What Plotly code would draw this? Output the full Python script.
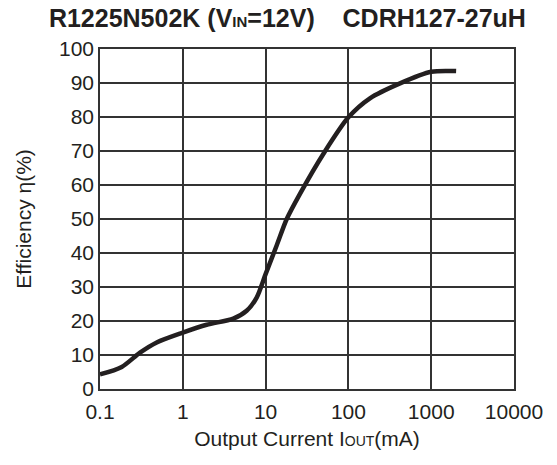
import plotly.graph_objects as go

current_ma = [0.1, 0.183, 0.304, 0.484, 1.0, 1.94, 4.07, 5.9, 7.8, 10, 13.6, 18, 26, 50, 100, 182, 420, 1000, 2000]
efficiency = [4.3, 6.5, 10.7, 13.7, 16.6, 18.9, 20.7, 23.0, 26.9, 33.8, 42.2, 50.0, 57.4, 69.2, 79.9, 85.5, 89.9, 93.3, 93.5]

x_ticks = [0.1, 1, 10, 100, 1000, 10000]
x_tick_labels = ["0.1", "1", "10", "100", "1000", "10000"]
y_ticks = list(range(0, 101, 10))

font_family = "Arial, 'Liberation Sans', sans-serif"
grid_color = "#333333"

fig = go.Figure()
fig.add_trace(go.Scatter(
    x=current_ma, y=efficiency, mode="lines",
    line=dict(color="#231f20", width=4.5, shape="spline", smoothing=0.8),
    showlegend=False, hoverinfo="skip"))

fig.update_layout(
    width=557, height=465,
    margin=dict(l=100, r=43, t=49, b=76),
    paper_bgcolor="white", plot_bgcolor="white",
    font=dict(family=font_family, size=21, color="#231f20"),
    title=dict(
        text="<b>R1225N502K (V<span style='font-size:15px'>IN</span>=12V)&nbsp;&nbsp;&nbsp; CDRH127-27uH</b>",
        x=0.516, xanchor="center", y=0.960, yanchor="middle",
        font=dict(family=font_family, size=25, color="#231f20")),
)
fig.update_xaxes(
    type="log", range=[-1, 4],
    tickvals=x_ticks, ticktext=x_tick_labels,
    showgrid=True, gridcolor=grid_color, gridwidth=1.5,
    showline=True, linecolor=grid_color, linewidth=1.5, mirror=True,
    ticks="", zeroline=False, ticklabelstandoff=3,
    title=dict(text="Output Current I<span style='font-size:14px'>OUT</span>(mA)",
               font=dict(size=21), standoff=9),
    tickfont=dict(size=21))
fig.update_yaxes(
    range=[0, 100], tickvals=y_ticks,
    showgrid=True, gridcolor=grid_color, gridwidth=1.5,
    showline=True, linecolor=grid_color, linewidth=1.5, mirror=True,
    ticks="", zeroline=False,
    title=dict(text="Efficiency η(%)", font=dict(size=21), standoff=22),
    tickfont=dict(size=21))

# remove the default 8px page margin so the figure fills the window exactly
fig.write_html("out.html", config={"displayModeBar": False},
               post_script="document.body.style.margin='0';")
